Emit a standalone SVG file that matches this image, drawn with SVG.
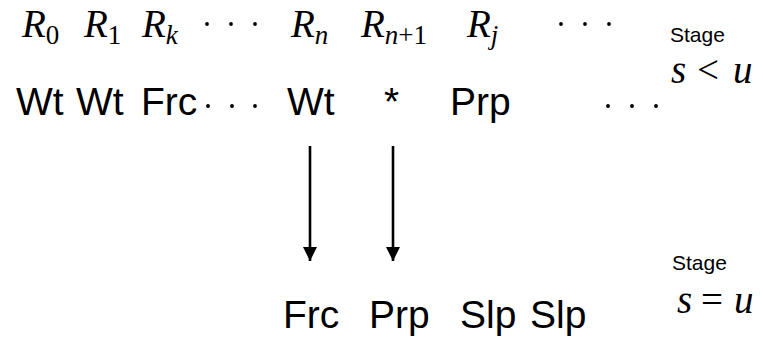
<svg xmlns="http://www.w3.org/2000/svg" width="763" height="343" viewBox="0 0 763 343">
  <style>
    .math { font-family: "Liberation Serif", "Times New Roman", serif; font-style: italic; font-size: 39px; fill: #000; }
    .sub { font-size: 27px; }
    .up { font-style: normal; }
    .big { font-size: 39px; }
    .word { font-family: "Liberation Sans", Arial, sans-serif; font-size: 39px; fill: #000; }
    .stage { font-family: "Liberation Sans", Arial, sans-serif; font-size: 21px; fill: #000; }
    .dot { fill: #000; }
    .conn { stroke: #000; stroke-width: 2.6; fill: none; }
  </style>
  <defs>
    <marker id="head" viewBox="0 0 10 10" refX="10" refY="5" markerUnits="userSpaceOnUse" markerWidth="14" markerHeight="14" orient="auto">
      <path d="M0,0 L10,5 L0,10 Z" fill="#000"/>
    </marker>
    <circle id="pt" r="1.9"/>
  </defs>
  <rect width="763" height="343" fill="#fff"/>

  <!-- upper stage: register labels -->
  <g id="r0"><text class="math" x="22" y="37">R<tspan class="sub up" dy="7">0</tspan></text></g>
  <g id="r1"><text class="math" x="84" y="37">R<tspan class="sub up" dy="7">1</tspan></text></g>
  <g id="rk"><text class="math" x="142" y="37">R<tspan class="sub" dy="7">k</tspan></text></g>
  <g id="dots-top-1" class="dot"><use href="#pt" x="207" y="24"/><use href="#pt" x="231" y="24"/><use href="#pt" x="255" y="24"/></g>
  <g id="rn"><text class="math" x="291" y="37">R<tspan class="sub" dy="7">n</tspan></text></g>
  <g id="rn1"><text class="math" x="361" y="37">R<tspan class="sub" dy="7">n<tspan class="up">+1</tspan></tspan></text></g>
  <g id="rj"><text class="math" x="467" y="37">R<tspan class="sub" dy="7">j</tspan></text></g>
  <g id="dots-top-2" class="dot"><use href="#pt" x="561" y="24"/><use href="#pt" x="585" y="24"/><use href="#pt" x="609" y="24"/></g>

  <!-- upper stage: register states -->
  <g id="w0"><text class="word" x="16" y="115">Wt</text></g>
  <g id="w1"><text class="word" x="76" y="115">Wt</text></g>
  <g id="wk"><text class="word" x="141" y="115">Frc</text></g>
  <g id="dots-mid-1" class="dot"><use href="#pt" x="208" y="106"/><use href="#pt" x="232" y="106"/><use href="#pt" x="255" y="106"/></g>
  <g id="wn"><text class="word" x="287" y="115">Wt</text></g>
  <g id="wn1"><text class="word" x="384" y="115">*</text></g>
  <g id="wj"><text class="word" x="450" y="115">Prp</text></g>
  <g id="dots-mid-2" class="dot"><use href="#pt" x="608" y="106"/><use href="#pt" x="632" y="106"/><use href="#pt" x="656" y="106"/></g>

  <g id="stage-lt">
    <text class="stage" x="670" y="42">Stage</text>
    <text class="math big" y="83"><tspan x="671">s</tspan><tspan x="697" class="up">&lt;</tspan><tspan x="733">u</tspan></text>
  </g>

  <!-- transitions -->
  <g id="connectors">
    <line class="conn" x1="310" y1="146" x2="310" y2="261" marker-end="url(#head)"/>
    <line class="conn" x1="393" y1="146" x2="393" y2="261" marker-end="url(#head)"/>
  </g>

  <!-- lower stage -->
  <g id="frc"><text class="word" x="283" y="328">Frc</text></g>
  <g id="prp"><text class="word" x="369" y="328">Prp</text></g>
  <g id="slp1"><text class="word" x="460" y="328">Slp</text></g>
  <g id="slp2"><text class="word" x="530" y="328">Slp</text></g>

  <g id="stage-eq">
    <text class="stage" x="672" y="270">Stage</text>
    <text class="math big" y="313"><tspan x="677">s</tspan><tspan x="701" class="up">=</tspan><tspan x="734">u</tspan></text>
  </g>
</svg>
